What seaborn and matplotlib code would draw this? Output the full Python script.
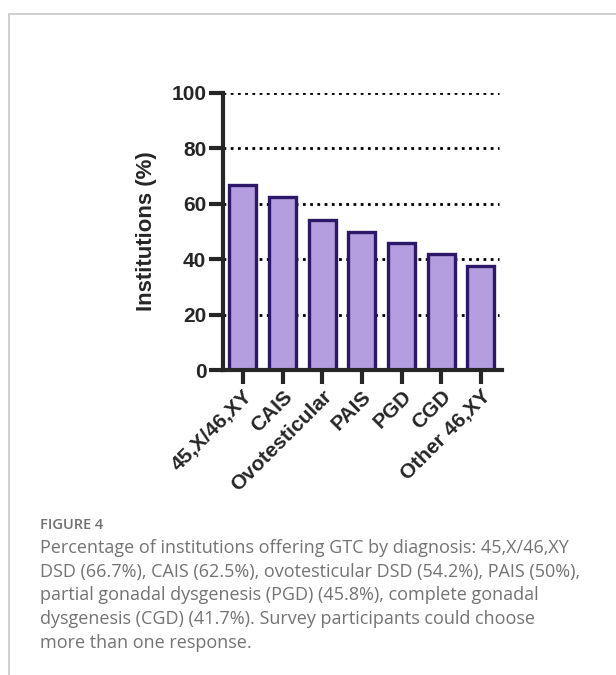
import matplotlib
matplotlib.use("Agg")
import matplotlib.pyplot as plt
import seaborn as sns
import pandas as pd
from matplotlib.lines import Line2D

diagnoses = ["45,X/46,XY", "CAIS", "Ovotesticular", "PAIS", "PGD", "CGD", "Other 46,XY"]
pct_institutions = [66.7, 62.5, 54.2, 50.0, 45.8, 41.7, 37.5]
y_ticks = [0, 20, 40, 60, 80, 100]

caption_title = "FIGURE 4"
caption_lines = [
    "Percentage of institutions offering GTC by diagnosis: 45,X/46,XY",
    "DSD (66.7%), CAIS (62.5%), ovotesticular DSD (54.2%), PAIS (50%),",
    "partial gonadal dysgenesis (PGD) (45.8%), complete gonadal",
    "dysgenesis (CGD) (41.7%). Survey participants could choose",
    "more than one response.",
]

sns.set_style("ticks")
plt.rcParams['font.family'] = ['Liberation Sans', 'DejaVu Sans']

df = pd.DataFrame({"diagnosis": diagnoses, "pct": pct_institutions})

fig = plt.figure(figsize=(6.16, 6.75), dpi=100)
ax = fig.add_axes([223 / 616, 1 - 370 / 675, (502 - 223) / 616, (370 - 93) / 675])

# dotted gridlines behind the bars
for v in y_ticks[1:]:
    ax.plot([-0.5, 6.45], [v, v], color="black", lw=2, linestyle=(0, (1, 1.6)), zorder=0)

sns.barplot(data=df, x="diagnosis", y="pct", color="#b49ee0", edgecolor="#2d1769",
            linewidth=2.4, width=0.68, saturation=1, ax=ax, zorder=2)

ax.set_ylim(0, 100)
ax.set_xlim(-0.5, 6.53)
ax.set_yticks(y_ticks)
ax.set_xlabel("")
ax.set_ylabel("Institutions (%)", fontsize=16, fontweight="bold", labelpad=10)
for s in ["top", "right"]:
    ax.spines[s].set_visible(False)
for s in ["left", "bottom"]:
    ax.spines[s].set_linewidth(3)
ax.tick_params(axis="both", width=3, length=10, labelsize=15, pad=2)
for lbl in ax.get_yticklabels():
    lbl.set_fontweight("bold")
ax.set_xticks(range(len(diagnoses)))
ax.set_xticklabels(diagnoses, rotation=45, ha="right", rotation_mode="anchor",
                   fontweight="bold", fontsize=15)

# page frame lines
fig.add_artist(Line2D([9 / 616, 1], [1 - 14 / 675] * 2, color="#c8c8c8", lw=1.2))
fig.add_artist(Line2D([9 / 616] * 2, [0, 1 - 14 / 675], color="#c8c8c8", lw=1.2))

fig.text(40 / 616, 1 - 529 / 675, caption_title, fontsize=10.5, color="#707070",
         family=["Open Sans", "DejaVu Sans"], fontweight="semibold", va="baseline")
for i, line in enumerate(caption_lines):
    fig.text(40 / 616, 1 - (553 + 23.7 * i) / 675, line, fontsize=13, color="#737373",
             family=["Open Sans", "DejaVu Sans"], va="baseline")

fig.savefig("out.png", dpi=100)
